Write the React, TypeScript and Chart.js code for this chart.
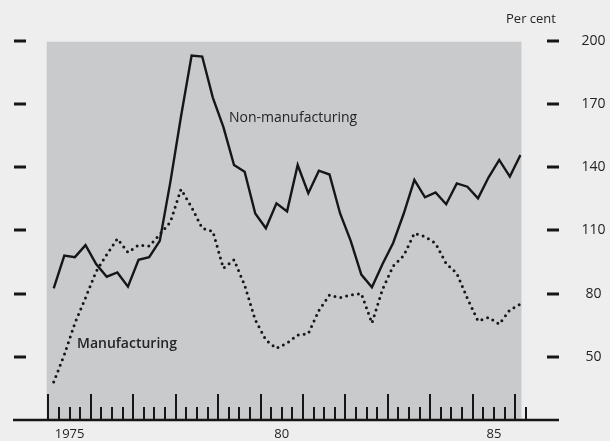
import React, { useEffect, useRef } from "react";
import { Chart, registerables } from "chart.js";

Chart.register(...registerables);

const quarters = [
  "1975 Q1", "1975 Q2", "1975 Q3", "1975 Q4",
  "1976 Q1", "1976 Q2", "1976 Q3", "1976 Q4",
  "1977 Q1", "1977 Q2", "1977 Q3", "1977 Q4",
  "1978 Q1", "1978 Q2", "1978 Q3", "1978 Q4",
  "1979 Q1", "1979 Q2", "1979 Q3", "1979 Q4",
  "1980 Q1", "1980 Q2", "1980 Q3", "1980 Q4",
  "1981 Q1", "1981 Q2", "1981 Q3", "1981 Q4",
  "1982 Q1", "1982 Q2", "1982 Q3", "1982 Q4",
  "1983 Q1", "1983 Q2", "1983 Q3", "1983 Q4",
  "1984 Q1", "1984 Q2", "1984 Q3", "1984 Q4",
  "1985 Q1", "1985 Q2", "1985 Q3", "1985 Q4",
  "1986 Q1",
];

const nonManufacturing = [
  82.5, 98, 97.3, 103, 94, 88, 90, 83.3, 96, 97.3, 105, 133, 164, 193, 192.5,
  173, 159, 141, 137.8, 118, 111, 122.8, 119, 141, 127.6, 138.3, 136.5, 118,
  105, 89, 83, 94, 104, 118, 134, 125.7, 128, 122.4, 132.3, 130.7, 125.2, 135.2,
  143.4, 135.5, 145.8,
];

const manufacturing = [
  38, 51, 66, 78, 90.5, 98.5, 106, 99.5, 103, 102.5, 108, 114, 129.5, 121, 111,
  109.5, 92, 96, 84, 67.5, 58, 54, 56.5, 60.3, 61, 72, 79.3, 78, 79.3, 80, 66,
  82, 93, 98, 108.6, 107, 103.8, 94.2, 89.6, 77.7, 67, 68.7, 65.5, 72.2, 75,
];

const yTicks = [50, 80, 110, 140, 170, 200];
const axisYears = [1975, 1976, 1977, 1978, 1979, 1980, 1981, 1982, 1983, 1984, 1985, 1986];
const yearLabels = ["1975", "80", "85"];
const yearLabelYears = [1975, 1980, 1985];
const unitLabel = "Per cent";
const seriesLabels = ["Non-manufacturing", "Manufacturing"];

const FONT = "'Open Sans', 'DejaVu Sans', sans-serif";
const INK = "#161616";
const TEXT = "#242424";

function quarterToX(q: string): number {
  const [y, qq] = q.split(" Q");
  return Number(y) + (Number(qq) - 0.5) / 4;
}

const decor = {
  id: "decor",
  beforeDraw(chart: any) {
    const { ctx, chartArea } = chart;
    ctx.save();
    ctx.fillStyle = "#c9cacc";
    ctx.fillRect(
      chartArea.left,
      chartArea.top + 1,
      chartArea.right - chartArea.left,
      chartArea.bottom - chartArea.top - 1
    );
    ctx.restore();
  },
  afterDraw(chart: any) {
    const { ctx, chartArea, scales } = chart;
    const xs = scales.x;
    const ys = scales.y;
    const base = chartArea.bottom;
    ctx.save();
    ctx.strokeStyle = INK;
    ctx.lineCap = "butt";

    // quarterly tick marks rising from the axis line
    ctx.lineWidth = 2;
    const first = axisYears[0];
    const last = axisYears[axisYears.length - 1];
    const count = (last - first) * 4 + 1;
    for (let k = 0; k <= count; k++) {
      const v = first + k / 4;
      const px = Math.round(xs.getPixelForValue(v));
      const long = k % 4 === 0;
      ctx.beginPath();
      ctx.moveTo(px, base);
      ctx.lineTo(px, base - (long ? 26 : 13));
      ctx.stroke();
    }

    // axis line
    ctx.lineWidth = 2.5;
    ctx.beginPath();
    ctx.moveTo(13, base);
    ctx.lineTo(559, base);
    ctx.stroke();

    // side dashes
    ctx.lineWidth = 3;
    yTicks.forEach((v) => {
      const py = Math.round(ys.getPixelForValue(v));
      ctx.beginPath();
      ctx.moveTo(14, py);
      ctx.lineTo(26, py);
      ctx.moveTo(547, py);
      ctx.lineTo(559, py);
      ctx.stroke();
    });

    // texts
    ctx.fillStyle = TEXT;
    ctx.textBaseline = "alphabetic";
    ctx.textAlign = "center";
    ctx.font = `13px ${FONT}`;
    yearLabels.forEach((t, i) => {
      ctx.fillText(t, xs.getPixelForValue(yearLabelYears[i] + 0.5), 438);
    });
    ctx.fillText(unitLabel, 531, 23);

    ctx.textAlign = "left";
    ctx.font = `14px ${FONT}`;
    ctx.fillText(seriesLabels[0], xs.getPixelForValue(1979.256), ys.getPixelForValue(161.4));
    ctx.font = `600 14px ${FONT}`;
    ctx.fillText(seriesLabels[1], xs.getPixelForValue(1975.674), ys.getPixelForValue(54.2));
    ctx.restore();
  },
};

export default function App() {
  const ref = useRef<HTMLCanvasElement | null>(null);

  useEffect(() => {
    const canvas = ref.current;
    if (!canvas) return;
    const xs = quarters.map(quarterToX);
    const chart = new Chart(canvas, {
      type: "line",
      data: {
        datasets: [
          {
            label: seriesLabels[0],
            data: xs.map((x, i) => ({ x, y: nonManufacturing[i] })),
            borderColor: INK,
            borderWidth: 2.4,
            pointRadius: 0,
            tension: 0,
            fill: false,
            borderJoinStyle: "miter",
          },
          {
            label: seriesLabels[1],
            data: xs.map((x, i) => ({ x, y: manufacturing[i] })),
            borderColor: INK,
            borderWidth: 3,
            borderDash: [0, 6],
            borderCapStyle: "round",
            pointRadius: 0,
            tension: 0,
            fill: false,
          },
        ],
      },
      options: {
        responsive: false,
        animation: false,
        devicePixelRatio: 1,
        events: [],
        layout: { padding: { left: 46.7, top: 40.7, right: 0, bottom: 21 } },
        plugins: {
          legend: { display: false },
          tooltip: { enabled: false },
          title: { display: false },
        },
        scales: {
          x: {
            type: "linear",
            min: 1974.96,
            max: 1986.15,
            display: false,
          },
          y: {
            type: "linear",
            position: "right",
            min: 20,
            max: 200,
            grid: { display: false },
            border: { display: false },
            afterBuildTicks: (axis: any) => {
              axis.ticks = yTicks.map((v) => ({ value: v }));
            },
            afterFit: (axis: any) => {
              axis.width = 88.5;
              axis.paddingTop = 0;
              axis.paddingBottom = 0;
            },
            ticks: {
              color: TEXT,
              font: { family: FONT, size: 14 },
              crossAlign: "center",
              padding: 52,
              callback: (v: any) => String(v),
            },
          },
        },
      },
      plugins: [decor],
    } as any);
    return () => chart.destroy();
  }, []);

  return (
    <div
      style={{
        position: "fixed",
        left: 0,
        top: 0,
        width: 610,
        height: 441,
        background: "#eeeeee",
        overflow: "hidden",
      }}
    >
      <canvas ref={ref} width={610} height={441} style={{ display: "block" }} />
    </div>
  );
}
